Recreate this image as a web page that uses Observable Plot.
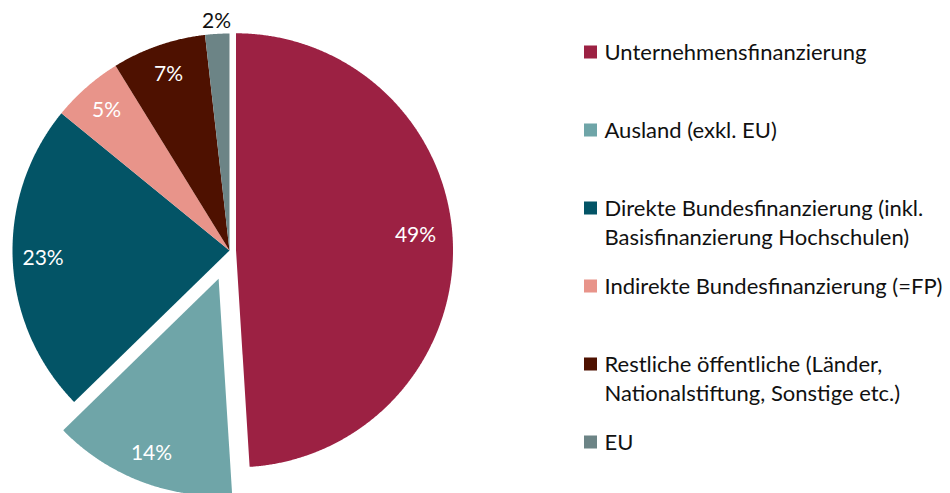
<!DOCTYPE html>
<html>
<head>
<meta charset="utf-8">
<script src="https://cdn.jsdelivr.net/npm/d3@7"></script>
<script src="https://cdn.jsdelivr.net/npm/@observablehq/plot@0.6"></script>
<style>
  html, body { margin: 0; padding: 0; background: #fff; }
  #chart svg { display: block; }
</style>
</head>
<body>
<div id="chart"></div>
<script>
// ---- data ----
const categories = [
  "Unternehmensfinanzierung",
  "Ausland (exkl. EU)",
  "Direkte Bundesfinanzierung (inkl. Basisfinanzierung Hochschulen)",
  "Indirekte Bundesfinanzierung (=FP)",
  "Restliche öffentliche (Länder, Nationalstiftung, Sonstige etc.)",
  "EU"
];
const legendLabels = [
  "Unternehmensfinanzierung",
  "Ausland (exkl. EU)",
  "Direkte Bundesfinanzierung (inkl.\nBasisfinanzierung Hochschulen)",
  "Indirekte Bundesfinanzierung (=FP)",
  "Restliche öffentliche (Länder,\nNationalstiftung, Sonstige etc.)",
  "EU"
];
const shares = [49.0, 13.7, 23.2, 5.3, 7.0, 1.8];
const colors = ["#9c2143", "#6fa5a8", "#035466", "#e8948a", "#4e1100", "#6c8486"];

// ---- layout / style config ----
const W = 950, H = 493;
const CX = 229, CY = 250, R = 217;
const explode = {"Unternehmensfinanzierung": 0.03, "Ausland (exkl. EU)": 0.14};
const LABEL_R = 0.86, OUTSIDE_R = 1.06;
const FONT = "Lato, 'Open Sans', sans-serif";
const FS = 21, LFS = 22;

const data = categories.map((name, i) => ({name, value: shares[i], legend: legendLabels[i]}));
const arcs = d3.pie().sort(null).value(d => d.value)(data);

const pts = [];
const labels = [];
arcs.forEach(a => {
  const name = a.data.name;
  const mid = (a.startAngle + a.endAngle) / 2;
  const off = (explode[name] || 0) * R;
  const ox = CX + off * Math.sin(mid), oy = CY - off * Math.cos(mid);
  pts.push({name, x: ox, y: oy});
  const n = Math.max(2, Math.ceil((a.endAngle - a.startAngle) / 0.005));
  for (let k = 0; k <= n; k++) {
    const t = a.startAngle + (a.endAngle - a.startAngle) * k / n;
    pts.push({name, x: ox + R * Math.sin(t), y: oy - R * Math.cos(t)});
  }
  const pct = Math.round(a.data.value);
  const inside = a.data.value >= 3;
  // large slices: label sits a little toward the slice's start edge (Excel best fit)
  const la = a.data.value > 40 ? mid - 0.05 : mid;
  const lr = R * (inside ? (a.data.value > 40 ? 0.83 : LABEL_R) : OUTSIDE_R);
  labels.push({name, inside, text: pct + "%", x: ox + lr * Math.sin(la), y: oy - lr * Math.cos(la)});
});

// legend layout
const LX = 584, LS = 13, ROW0 = 52, ROWSTEP = 78;
const legend = data.map((d, i) => ({
  name: d.name, text: d.legend,
  cy: ROW0 + i * ROWSTEP
}));

const chart = Plot.plot({
  width: W, height: H, margin: 0,
  x: {domain: [0, W], range: [0, W], axis: null},
  y: {domain: [0, H], range: [0, H], axis: null},
  color: {domain: categories, range: colors},
  style: {fontFamily: FONT, background: "#fff", color: "#000"},
  marks: [
    Plot.line(pts, {x: "x", y: "y", z: "name", fill: "name", stroke: "none", curve: "linear-closed"}),
    Plot.text(labels.filter(d => d.inside), {x: "x", y: "y", text: "text", fill: "white", fontSize: FS, textAnchor: "middle", lineAnchor: "middle"}),
    Plot.text(labels.filter(d => !d.inside), {x: "x", y: "y", text: "text", fill: "#111", fontSize: FS, textAnchor: "middle", lineAnchor: "middle"}),
    Plot.rect(legend, {x1: () => LX, x2: () => LX + LS, y1: d => d.cy - LS / 2, y2: d => d.cy + LS / 2, fill: "name"}),
    Plot.text(legend, {x: () => LX + LS + 7, y: d => d.cy - 13, text: "text", fill: "#111", fontSize: LFS, textAnchor: "start", lineAnchor: "top", lineHeight: 29 / LFS})
  ]
});
document.getElementById("chart").appendChild(chart);
</script>
</body>
</html>
